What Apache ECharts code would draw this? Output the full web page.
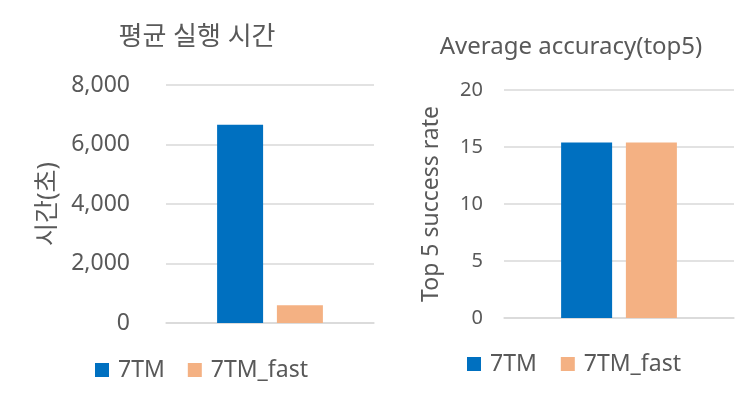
<!DOCTYPE html>
<html><head><meta charset="utf-8">
<script src="https://cdn.jsdelivr.net/npm/echarts@6/dist/echarts.min.js"></script>
<style>html,body{margin:0;padding:0;background:#fff}#c{width:754px;height:403px}</style>
</head><body><div id="c"></div>
<script>
var seriesNames = ['7TM', '7TM_fast'];
var timeValues = [6660, 595];
var accValues = [15.4, 15.4];
var titles = ['평균 실행 시간', 'Average accuracy(top5)'];
var yNames = ['시간(초)', 'Top 5 success rate'];
var colors = ['#0070C0', '#F4B183'];
var FONT = '"Noto Sans", "Noto Sans CJK KR", sans-serif';
var TXT = '#595959';

var chart = echarts.init(document.getElementById('c'));
var legendBase = {
  data: seriesNames, icon: 'rect', itemWidth: 14, itemHeight: 14, padding: 0,
  textStyle: { color: TXT, fontSize: 23, lineHeight: 24, fontFamily: FONT, padding: [0, 0, 0, 4] }
};
chart.setOption({
  backgroundColor: '#fff',
  animation: false,
  title: [
    { text: titles[0], left: 197, top: 23, textAlign: 'center', padding: 0,
      textStyle: { color: TXT, fontSize: 26, lineHeight: 30, fontWeight: 'normal', fontFamily: FONT } },
    { text: titles[1], left: 571, top: 32, textAlign: 'center', padding: 0,
      textStyle: { color: TXT, fontSize: 24, lineHeight: 30, fontWeight: 'normal', fontFamily: FONT } }
  ],
  legend: [
    Object.assign({}, legendBase, { left: 95, top: 358, itemGap: 23 }),
    Object.assign({}, legendBase, { left: 467, top: 352, itemGap: 24 })
  ],
  grid: [
    { left: 166, top: 85, width: 208, height: 238 },
    { left: 504, top: 90, width: 230, height: 228 }
  ],
  xAxis: [0, 1].map(function (i) {
    return { type: 'category', gridIndex: i, data: [''],
      axisLine: { show: true, lineStyle: { color: '#D9D9D9', width: 1.5 } },
      axisTick: { show: false }, axisLabel: { show: false } };
  }),
  yAxis: [
    { type: 'value', gridIndex: 0, min: 0, max: 8000, interval: 2000,
      name: yNames[0], nameLocation: 'middle', nameGap: 106, nameRotate: 90,
      nameTextStyle: { color: TXT, fontSize: 25, fontFamily: FONT },
      axisLine: { show: false }, axisTick: { show: false },
      axisLabel: { color: TXT, fontSize: 23, fontFamily: FONT, margin: 36,
        formatter: function (v) { return v.toLocaleString('en-US'); } },
      splitLine: { lineStyle: { color: '#D9D9D9', width: 1.5 } } },
    { type: 'value', gridIndex: 1, min: 0, max: 20, interval: 5,
      name: yNames[1], nameLocation: 'middle', nameGap: 61, nameRotate: 90,
      nameTextStyle: { color: TXT, fontSize: 23, fontFamily: FONT },
      axisLine: { show: false }, axisTick: { show: false },
      axisLabel: { color: TXT, fontSize: 20, fontFamily: FONT, margin: 21 },
      splitLine: { lineStyle: { color: '#D9D9D9', width: 1.5 } } }
  ],
  series: [
    { name: seriesNames[0], type: 'bar', xAxisIndex: 0, yAxisIndex: 0, data: [timeValues[0]],
      barWidth: 46, barGap: '30%', itemStyle: { color: colors[0] } },
    { name: seriesNames[1], type: 'bar', xAxisIndex: 0, yAxisIndex: 0, data: [timeValues[1]],
      barWidth: 46, barGap: '30%', itemStyle: { color: colors[1] } },
    { name: seriesNames[0], type: 'bar', xAxisIndex: 1, yAxisIndex: 1, data: [accValues[0]],
      barWidth: 51, barGap: '27%', itemStyle: { color: colors[0] } },
    { name: seriesNames[1], type: 'bar', xAxisIndex: 1, yAxisIndex: 1, data: [accValues[1]],
      barWidth: 51, barGap: '27%', itemStyle: { color: colors[1] } }
  ]
});
</script></body></html>
